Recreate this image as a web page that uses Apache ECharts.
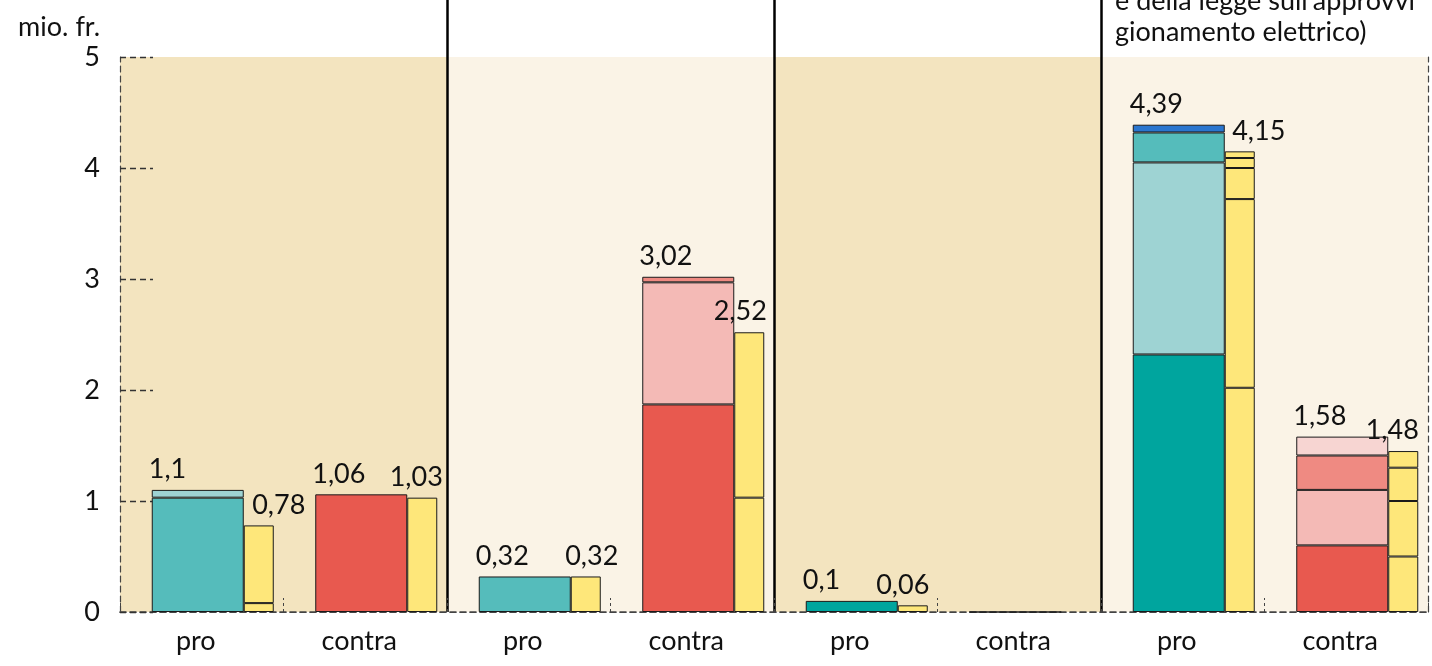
<!DOCTYPE html>
<html>
<head>
<meta charset="utf-8">
<script src="https://cdn.jsdelivr.net/npm/echarts@6.0.0/dist/echarts.min.js"></script>
<style>
    html, body { margin: 0; padding: 0; background: #fff; }
    #chart { width: 1432px; height: 666px; }
</style>
</head>
<body>
<div id="chart"></div>
<script>
// categories: four panels, each with a pro and a contra group
const categories = ['pro', 'contra', 'pro', 'contra', 'pro', 'contra', 'pro', 'contra'];
const panels = ['1', '2', '3', '4'];

// main (wide) bars, stacked from bottom to top
const proTealDark  = [null, null, null, null, 0.10, null, 2.32, null];
const proTeal      = [1.03, null, 0.32, null, null, null, null, null];
const proTealLight = [0.07, null, null, null, null, null, 1.73, null];
const proTealTop   = [null, null, null, null, null, null, 0.27, null];
const proBlue      = [null, null, null, null, null, null, 0.07, null];
const contraRed    = [null, 1.06, null, 1.87, null, 0, null, 0.60];
const contraPink   = [null, null, null, 1.10, null, null, null, 0.50];
const contraSalmon = [null, null, null, 0.05, null, null, null, 0.31];
const contraPale   = [null, null, null, null, null, null, null, 0.17];

// narrow yellow bars, stacked from bottom to top
const yellow1 = [0.08, 1.03, 0.32, 1.03, 0.06, null, 2.02, 0.50];
const yellow2 = [0.70, null, null, 1.49, null, null, 1.70, 0.50];
const yellow3 = [null, null, null, null, null, null, 0.28, 0.30];
const yellow4 = [null, null, null, null, null, null, 0.09, 0.15];
const yellow5 = [null, null, null, null, null, null, 0.06, null];

// printed totals
const mainTotals   = [1.1, 1.06, 0.32, 3.02, 0.1, null, 4.39, 1.58];
const yellowTotals = [0.78, 1.03, 0.32, 2.52, 0.06, null, 4.15, 1.48];

const yTicks = [0, 1, 2, 3, 4, 5];

// label nudges (px) for the yellow totals
const yellowLabelShift = [20, -6, 6, -9, -10, 0, 19, -11];

const FONT = 'Lato';
const FS = 27;
const BORDER = '#1a1a1a';
const dash = [6, 4];

const fmt = v => String(v).replace('.', ',');

function mainBar(data, color) {
    return {
        type: 'bar', stack: 'main', data: data, barWidth: 92, barGap: '0%',
        itemStyle: { color: color, borderColor: BORDER, borderWidth: 1 },
        z: 2,
    };
}
function yellowBar(data) {
    return {
        type: 'bar', stack: 'yellow', data: data, barWidth: 30, barGap: '0%',
        itemStyle: { color: '#fee77a', borderColor: BORDER, borderWidth: 1 },
        z: 2,
    };
}
const labelStyle = { show: true, position: 'top', distance: 7, fontFamily: FONT, fontSize: FS, color: '#111' };

// solid lines between the four panels only
const separator = {
    show: true, showMaxLine: false,
    interval: (index) => index > 0 && index % 2 === 0,
    lineStyle: { color: '#000', width: 2.5 },
};

const option = {
    animation: false,
    textStyle: { fontFamily: FONT },
    title: {
        text: "e della legge sull'approvvi\ngionamento elettrico)",
        left: 1115, top: -14, padding: 0,
        textStyle: { fontFamily: FONT, fontSize: FS, lineHeight: 31, fontWeight: 'normal', color: '#111' },
    },
    grid: [
        { left: 120, right: 4, top: 57, bottom: 54 },
        { left: 120, right: 4, top: 0, height: 57 },
    ],
    xAxis: [
        {
            type: 'category', data: categories, gridIndex: 0, position: 'bottom', z: 1,
            axisLine: { lineStyle: { color: '#444', type: dash, width: 1.5 } },
            axisTick: { show: true, inside: true, length: 14, interval: 0, lineStyle: { color: '#444', type: [3, 3] } },
            axisLabel: { interval: 0, margin: 16, fontSize: FS, color: '#111', padding: [0, 12, 0, 0] },
            splitLine: separator,
        },
        {
            type: 'category', data: panels, gridIndex: 0, position: 'top', z: 1,
            axisLine: { lineStyle: { color: '#444', type: dash, width: 1.2 } },
            axisTick: { show: false }, axisLabel: { show: false }, splitLine: { show: false },
        },
        {
            type: 'category', data: categories, gridIndex: 1, z: 1,
            axisLine: { show: false }, axisTick: { show: false }, axisLabel: { show: false },
            splitLine: separator,
        },
    ],
    yAxis: [
        {
            type: 'value', gridIndex: 0, min: yTicks[0], max: yTicks[yTicks.length - 1], interval: 1, z: 1,
            name: 'mio. fr.', nameLocation: 'end', nameGap: 16,
            nameTextStyle: { fontFamily: FONT, fontSize: FS, color: '#111', align: 'right', padding: [0, 20, 0, 0] },
            axisLine: { show: true, lineStyle: { color: '#444', type: dash, width: 1.2 } },
            axisTick: { show: true, inside: true, length: 33, lineStyle: { color: '#333', type: dash, width: 1.3 } },
            axisLabel: { margin: 20, fontSize: FS, color: '#111' },
            splitLine: { show: false },
        },
        {
            type: 'value', gridIndex: 0, min: yTicks[0], max: yTicks[yTicks.length - 1], position: 'right', z: 1,
            axisLine: { show: true, lineStyle: { color: '#444', type: dash, width: 1.2 } },
            axisTick: { show: false }, axisLabel: { show: false }, splitLine: { show: false },
        },
        { type: 'value', gridIndex: 1, show: false },
    ],
    series: [
        // panel backgrounds
        {
            type: 'bar', xAxisIndex: 1, yAxisIndex: 0, barWidth: '100%', silent: true, z: 0,
            data: panels.map((p, i) => ({
                value: yTicks[yTicks.length - 1],
                itemStyle: { color: i % 2 === 0 ? '#f3e4bf' : '#faf3e6' },
            })),
        },
        // spacer stack left of each group
        {
            type: 'bar', stack: 'spacer', barWidth: 22, barGap: '0%', silent: true,
            data: categories.map(() => null),
            itemStyle: { color: 'transparent' },
        },
        mainBar(proTealDark, '#00a59e'),
        mainBar(proTeal, '#55bcbb'),
        mainBar(proTealLight, '#9ed3d3'),
        mainBar(proTealTop, '#55bcbb'),
        mainBar(proBlue, '#2a76cf'),
        mainBar(contraRed, '#e8594f'),
        mainBar(contraPink, '#f4bab6'),
        mainBar(contraSalmon, '#ef8a82'),
        mainBar(contraPale, '#f7d5d2'),
        {
            type: 'bar', stack: 'main', barWidth: 92, barGap: '0%', silent: true,
            data: mainTotals.map(v => (v === null ? null : 0)),
            itemStyle: { color: 'transparent', borderWidth: 0 },
            label: Object.assign({}, labelStyle, {
                align: 'left', offset: [-49, 0],
                formatter: p => fmt(mainTotals[p.dataIndex]),
            }),
        },
        yellowBar(yellow1),
        yellowBar(yellow2),
        yellowBar(yellow3),
        yellowBar(yellow4),
        yellowBar(yellow5),
        {
            type: 'bar', stack: 'yellow', barWidth: 30, barGap: '0%', silent: true,
            data: yellowTotals.map((v, i) => (v === null ? null : {
                value: 0,
                label: { offset: [yellowLabelShift[i], 0] },
            })),
            itemStyle: { color: 'transparent', borderWidth: 0 },
            label: Object.assign({}, labelStyle, {
                formatter: p => fmt(yellowTotals[p.dataIndex]),
            }),
        },
    ],
};

const myChart = echarts.init(document.getElementById('chart'));
myChart.setOption(option);
</script>
</body>
</html>
